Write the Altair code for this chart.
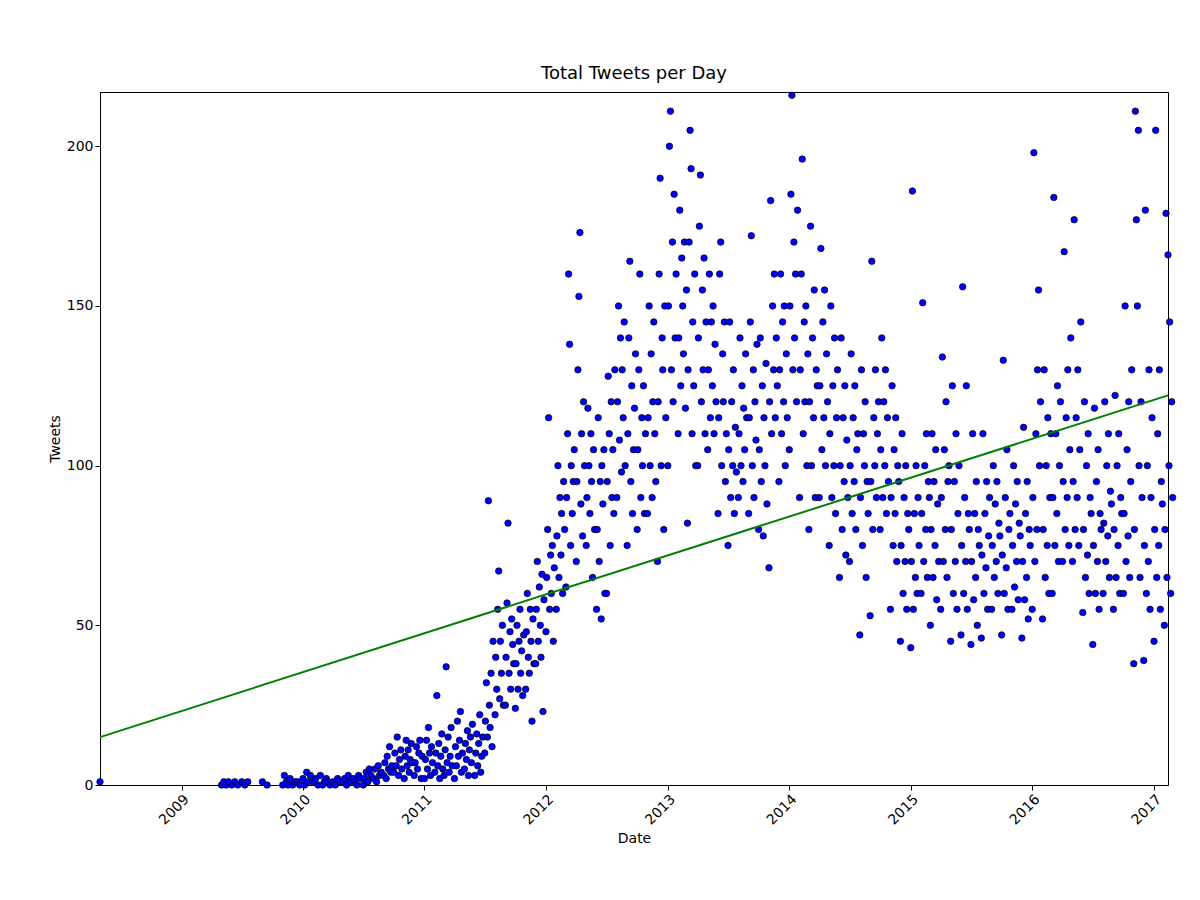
import pandas as pd
import altair as alt

# monthly samples of daily tweet counts (month -> values)
months = [
    "2008-05", "2009-05", "2009-06", "2009-07", "2009-09", "2009-11", "2009-12",
    "2010-01", "2010-02", "2010-03", "2010-04", "2010-05", "2010-06", "2010-07", "2010-08",
    "2010-09", "2010-10", "2010-11", "2010-12",
    "2011-01", "2011-02", "2011-03", "2011-04", "2011-05", "2011-06", "2011-07", "2011-08",
    "2011-09", "2011-10", "2011-11", "2011-12",
    "2012-01", "2012-02", "2012-03", "2012-04", "2012-05", "2012-06", "2012-07", "2012-08",
    "2012-09", "2012-10", "2012-11", "2012-12",
    "2013-01", "2013-02", "2013-03", "2013-04", "2013-05", "2013-06", "2013-07", "2013-08",
    "2013-09", "2013-10", "2013-11", "2013-12",
    "2014-01", "2014-02", "2014-03", "2014-04", "2014-05", "2014-06", "2014-07", "2014-08",
    "2014-09", "2014-10", "2014-11", "2014-12",
    "2015-01", "2015-02", "2015-03", "2015-04", "2015-05", "2015-06", "2015-07", "2015-08",
    "2015-09", "2015-10", "2015-11", "2015-12",
    "2016-01", "2016-02", "2016-03", "2016-04", "2016-05", "2016-06", "2016-07", "2016-08",
    "2016-09", "2016-10", "2016-11", "2016-12",
    "2017-01", "2017-02",
]

tweets = [
    [1],
    [0, 1, 0, 1], [0, 1, 0], [1, 0, 1], [1, 0], [0, 3, 1, 0, 2], [0, 1, 1, 0],
    [2, 0, 4, 1, 3], [1, 2, 0, 3], [0, 1, 2, 1, 0], [1, 0, 2, 1], [1, 2, 0, 3, 1], [2, 1, 0, 3, 2],
    [0, 2, 4, 1, 5, 3], [2, 5, 1, 6, 3, 4],
    [3, 7, 2, 9, 5, 12, 4, 6], [4, 10, 6, 15, 3, 8, 11, 5], [2, 9, 14, 6, 11, 4, 8, 13, 7], [3, 7, 12, 5, 10, 14, 2, 9],
    [2, 8, 14, 5, 18, 10, 3, 12, 7], [4, 10, 28, 6, 13, 2, 9, 16, 5], [3, 11, 37, 7, 15, 4, 9, 18, 6],
    [2, 12, 6, 20, 9, 14, 23, 4, 10], [5, 13, 8, 17, 3, 11, 15, 7, 19], [3, 10, 16, 6, 13, 22, 4, 9, 15],
    [10, 20, 32, 15, 89, 25, 18, 35, 12, 45], [22, 40, 30, 55, 67, 27, 45, 35, 50, 25],
    [25, 40, 57, 82, 35, 48, 30, 52, 44, 38], [24, 38, 50, 30, 45, 55, 35, 42, 28, 47],
    [30, 48, 60, 40, 35, 55, 45, 20, 52, 38], [38, 55, 70, 45, 62, 50, 40, 66, 23, 58],
    [48, 65, 80, 115, 55, 72, 60, 75, 45, 68], [55, 78, 100, 65, 90, 72, 85, 60, 95, 80],
    [62, 90, 110, 160, 138, 75, 100, 85, 95, 105], [70, 95, 130, 153, 173, 88, 110, 78, 120, 100],
    [75, 90, 118, 100, 85, 110, 95, 65, 105, 80], [55, 80, 115, 70, 95, 52, 100, 88, 105, 60],
    [60, 95, 128, 110, 75, 120, 90, 105, 85, 130], [90, 120, 150, 108, 140, 98, 130, 115, 145, 100],
    [75, 110, 140, 164, 95, 125, 85, 105, 118, 135], [80, 105, 130, 160, 90, 115, 100, 125, 85, 110],
    [85, 115, 150, 100, 135, 90, 120, 145, 110, 95], [70, 120, 160, 190, 100, 140, 130, 80, 150, 115],
    [100, 150, 200, 211, 130, 170, 120, 185, 140, 160], [110, 140, 180, 125, 165, 150, 135, 170, 118, 155],
    [82, 130, 170, 205, 193, 110, 145, 125, 160, 100], [100, 140, 175, 191, 120, 155, 130, 165, 110, 145],
    [105, 130, 160, 115, 145, 125, 150, 110, 138, 120], [85, 115, 160, 170, 100, 135, 120, 145, 95, 110],
    [75, 105, 145, 90, 120, 100, 130, 85, 112, 98], [90, 110, 140, 100, 125, 95, 118, 105, 135, 115],
    [85, 115, 145, 172, 100, 130, 90, 120, 108, 138], [80, 105, 140, 95, 125, 78, 115, 100, 132, 88],
    [68, 120, 183, 110, 150, 130, 160, 115, 140, 125], [95, 130, 160, 110, 145, 120, 150, 100, 135, 115],
    [105, 150, 185, 216, 130, 170, 140, 160, 120, 180], [90, 130, 160, 196, 110, 145, 120, 150, 100, 135],
    [80, 120, 175, 100, 140, 115, 155, 90, 130, 125], [90, 125, 168, 105, 145, 115, 155, 100, 135, 120],
    [75, 110, 150, 90, 125, 100, 140, 85, 115, 130], [65, 100, 140, 80, 115, 95, 125, 72, 108, 90],
    [70, 100, 135, 85, 115, 95, 125, 80, 105, 110], [47, 90, 130, 75, 110, 100, 120, 65, 95, 85],
    [53, 95, 164, 80, 115, 100, 130, 90, 110, 120], [80, 105, 140, 90, 120, 100, 130, 85, 115, 95],
    [55, 90, 125, 75, 105, 85, 115, 70, 100, 95], [45, 75, 110, 60, 90, 70, 100, 55, 85, 80],
    [43, 70, 186, 55, 85, 65, 100, 60, 90, 75], [60, 85, 151, 70, 100, 80, 110, 65, 95, 90],
    [50, 80, 110, 65, 95, 75, 105, 58, 88, 70], [55, 90, 134, 70, 105, 80, 120, 65, 95, 100],
    [45, 80, 125, 60, 95, 70, 110, 55, 85, 100], [47, 75, 156, 60, 90, 70, 125, 55, 85, 80],
    [44, 70, 110, 58, 85, 65, 95, 50, 80, 75], [46, 72, 110, 60, 85, 68, 95, 55, 78, 90],
    [55, 75, 100, 65, 88, 70, 95, 60, 82, 78], [47, 72, 133, 60, 90, 68, 105, 55, 80, 85],
    [55, 75, 100, 62, 88, 70, 95, 58, 82, 78], [46, 70, 112, 58, 85, 65, 95, 52, 80, 75],
    [55, 90, 198, 70, 110, 80, 130, 155, 100, 120], [52, 80, 130, 65, 100, 75, 115, 60, 90, 110],
    [60, 90, 184, 75, 110, 85, 125, 70, 100, 120], [70, 95, 167, 80, 115, 90, 130, 75, 105, 140],
    [70, 95, 177, 80, 115, 90, 130, 75, 105, 145], [54, 80, 120, 65, 100, 72, 110, 60, 90, 85],
    [44, 75, 118, 60, 95, 70, 105, 55, 85, 80], [60, 82, 120, 70, 100, 78, 110, 65, 92, 88],
    [55, 80, 122, 65, 100, 75, 110, 60, 90, 85], [60, 85, 150, 70, 105, 78, 120, 65, 95, 130],
    [38, 80, 211, 177, 150, 205, 100, 65, 120, 90], [39, 75, 180, 60, 100, 70, 130, 55, 90, 115],
    [45, 80, 205, 65, 110, 75, 130, 55, 95, 88], [50, 80, 179, 65, 166, 100, 145, 60, 120, 90],
]

# least-squares trend line end points
trend_dates = ["2008-05-01", "2017-02-12"]
trend_values = [15, 122]

rows = []
for m, vals in zip(months, tweets):
    start = pd.Timestamp(m + "-01")
    for i, v in enumerate(vals):
        rows.append({"Date": start + pd.Timedelta(days=int(i * 28 / len(vals))), "Tweets": v})
df = pd.DataFrame(rows)
trend = pd.DataFrame({"Date": pd.to_datetime(trend_dates), "Tweets": trend_values})

x_scale = alt.Scale(domain=[pd.Timestamp("2008-05-01").isoformat(), pd.Timestamp("2017-02-12").isoformat()])
y_scale = alt.Scale(domain=[0, 217], nice=False)

points = alt.Chart(df).mark_circle(size=42, color="#0000ff", stroke="black", strokeWidth=0.7, opacity=1).encode(
    x=alt.X("Date:T", scale=x_scale, title="Date",
            axis=alt.Axis(format="%Y", tickCount="year", labelAngle=-45, labelAlign="right",
                          labelBaseline="top", grid=False)),
    y=alt.Y("Tweets:Q", scale=y_scale, title="Tweets",
            axis=alt.Axis(values=[0, 50, 100, 150, 200], grid=False)),
)

line = alt.Chart(trend).mark_line(color="green", strokeWidth=2).encode(
    x="Date:T", y="Tweets:Q"
)

chart = (points + line).properties(
    width=1068, height=693,
    padding={"left": 40, "top": 56, "right": 10, "bottom": 10},
    title=alt.TitleParams("Total Tweets per Day", fontSize=18, fontWeight="normal",
                          font="DejaVu Sans", offset=8),
).configure_view(stroke="black", strokeWidth=1).configure_axis(
    labelFont="DejaVu Sans", titleFont="DejaVu Sans", labelFontSize=14, titleFontSize=14,
    titleFontWeight="normal", domainColor="black", tickColor="black", labelColor="black",
    titleColor="black",
)

chart.save("out.html", embed_options={"renderer": "svg", "actions": False})
